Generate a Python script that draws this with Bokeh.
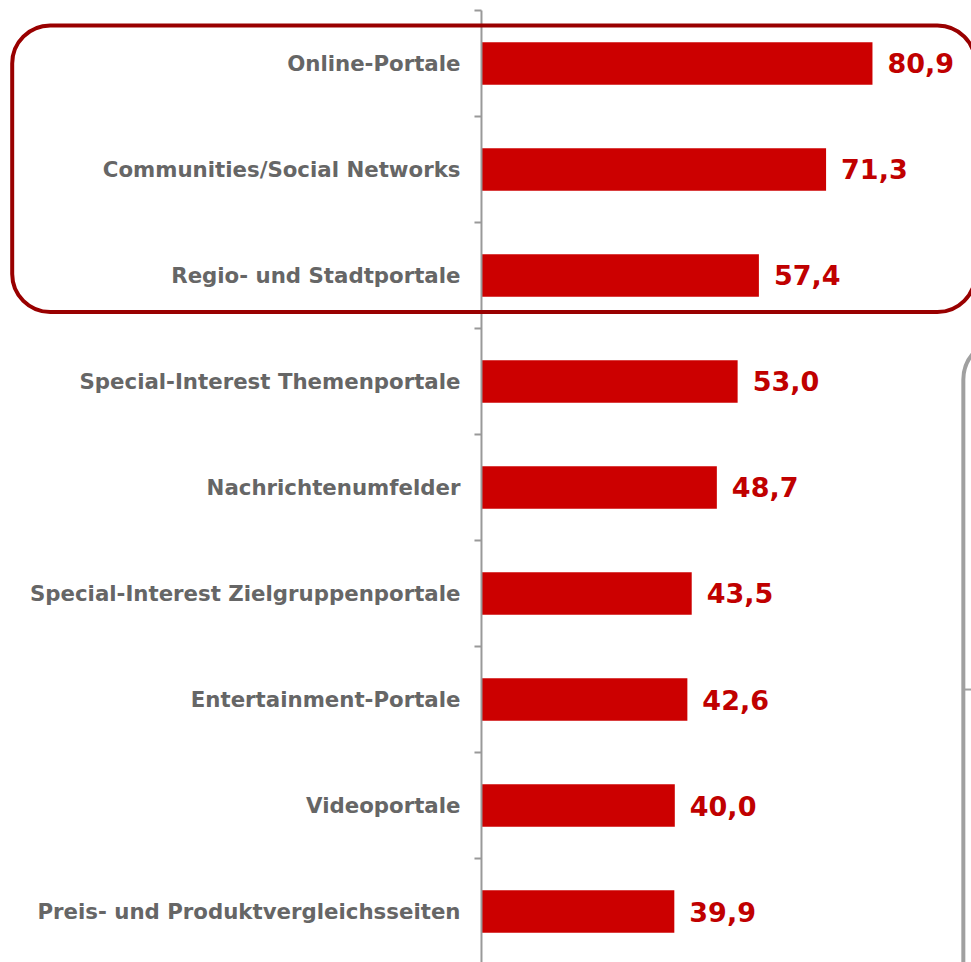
import math
from bokeh.plotting import figure
from bokeh.models import ColumnDataSource, Range1d, BoxAnnotation
from bokeh.core.properties import value
from bokeh.embed import file_html
from bokeh.resources import INLINE

categories = [
    "Online-Portale",
    "Communities/Social Networks",
    "Regio- und Stadtportale",
    "Special-Interest Themenportale",
    "Nachrichtenumfelder",
    "Special-Interest Zielgruppenportale",
    "Entertainment-Portale",
    "Videoportale",
    "Preis- und Produktvergleichsseiten",
]
values = [80.9, 71.3, 57.4, 53.0, 48.7, 43.5, 42.6, 40.0, 39.9]

n = len(categories)
ypos = [n - 1 - i for i in range(n)]
labels = [f"{v:.1f}".replace(".", ",") for v in values]
boundaries = [k + 0.5 for k in range(-1, n)]

src = ColumnDataSource(dict(y=ypos, v=values, lab=labels, cat=categories,
                            zero=[0] * n))

p = figure(width=971, height=962, output_backend="svg", toolbar_location=None,
           x_range=Range1d(-99.52, 101.39), y_range=Range1d(-0.481, 8.594),
           x_axis_location=None, y_axis_location=None,
           min_border=0)
p.outline_line_color = None
p.grid.visible = False
p.background_fill_color = "white"
p.border_fill_color = "white"

p.hbar(y="y", right="v", left=0, height=0.4, source=src,
       fill_color="#CC0000", line_color=None)
p.text(x="v", y="y", text="lab", source=src, x_offset=15,
       text_align="left", text_baseline="middle",
       text_font=value("DejaVu Sans"), text_font_style="bold",
       text_font_size="27px", text_color="#C00000")

# category axis: line, ticks between categories, labels
p.segment(x0=[0], x1=[0], y0=[boundaries[-1]], y1=[-0.481],
          line_color="#999999", line_width=2)
p.ray(x=[0] * len(boundaries), y=boundaries, length=7, length_units="screen",
      angle=math.pi, line_color="#999999", line_width=2)
p.text(x="zero", y="y", text="cat", source=src, x_offset=-21,
       text_align="right", text_baseline="middle",
       text_font=value("DejaVu Sans"), text_font_style="bold",
       text_font_size="21.3px", text_color="#666666")

# highlight box around the top three categories
p.add_layout(BoxAnnotation(left=-97.1, right=102.2, top=8.358, bottom=5.656,
                           fill_color=None, fill_alpha=0, line_color="#990000",
                           line_alpha=1, line_width=4, border_radius=38))
# partially visible grey panel on the right
p.add_layout(BoxAnnotation(left=99.7, right=130, top=5.396, bottom=-3,
                           fill_color=None, fill_alpha=0, line_color="#A0A0A0",
                           line_alpha=1, line_width=4, border_radius=40))
p.segment(x0=[99.7], x1=[101.39], y0=[2.094], y1=[2.094],
          line_color="#A0A0A0", line_width=2)

open("out.html", "w").write(file_html(p, INLINE))
